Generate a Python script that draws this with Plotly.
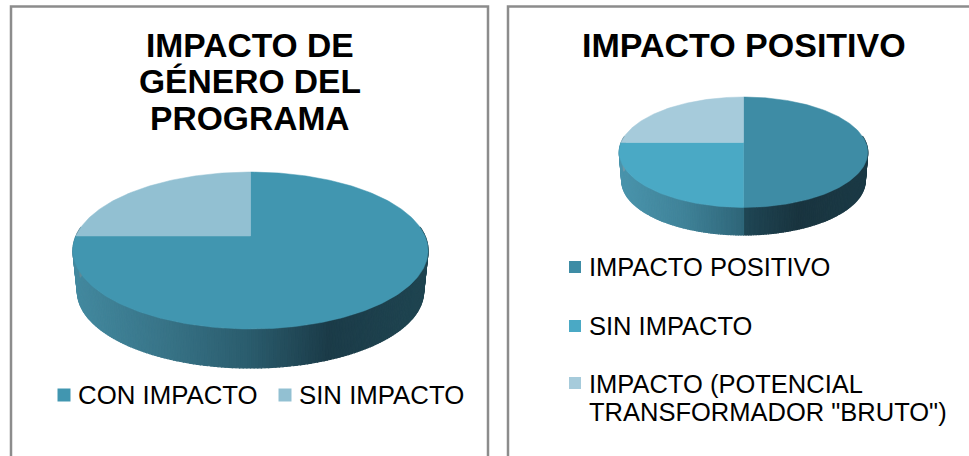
import math
import plotly.graph_objects as go

# ---- data ----
left_title = ["IMPACTO DE", "GÉNERO DEL", "PROGRAMA"]
left_labels = ["CON IMPACTO", "SIN IMPACTO"]
left_values = [75, 25]

right_title = ["IMPACTO POSITIVO"]
right_labels = ["IMPACTO POSITIVO", "SIN IMPACTO", 'IMPACTO (POTENCIAL<br>TRANSFORMADOR "BRUTO")']
right_values = [50, 25, 25]

# ---- styles ----
FONT = "Liberation Sans, Arial, sans-serif"
left_colors = ["#4196B0", "#92C0D2"]
right_colors = ["#3E8CA5", "#4AA9C5", "#A6CBDB"]
BORDER = "#8C8C8C"

left_geom = dict(cx=250.5, cy=236, rx=174.5, ry=75.8, k=0.185, depth=41.3, shrink=0.975)
right_geom = dict(cx=743.5, cy=142.5, rx=122.3, ry=53.5, k=0.176, depth=28.8, shrink=0.98)

# wall gradients: (x position within the pie, 0..1 -> colour), one per slice
left_wall = [[(0.0, "#43899F"), (0.25, "#387488"), (0.5, "#2A5B6C"), (0.72, "#1B3B48"), (1.0, "#1F4551")],
             [(0.0, "#5F8A99"), (1.0, "#5F8A99")]]
right_wall = [[(0.5, "#1F4654"), (0.72, "#19343F"), (1.0, "#1B3A46")],
              [(0.0, "#4A94AC"), (0.25, "#408399"), (0.5, "#2E6578")],
              [(0.0, "#6C98A8"), (1.0, "#6C98A8")]]


def project(g, theta, lower=False):
    u, v = math.sin(theta), math.cos(theta)
    w = 1 + g["k"] * v
    s = g["shrink"] if lower else 1.0
    d = g["depth"] if lower else 0.0
    return g["cx"] + s * g["rx"] * u / w, g["cy"] + d - s * g["ry"] * v / w


def hex_rgb(c):
    return tuple(int(c[i:i + 2], 16) for i in (1, 3, 5))


def gradient(stops, t):
    if t <= stops[0][0]:
        return stops[0][1]
    for (a, ca), (b, cb) in zip(stops, stops[1:]):
        if t <= b:
            f = (t - a) / (b - a)
            ra, rb = hex_rgb(ca), hex_rgb(cb)
            return "rgb(%d,%d,%d)" % tuple(round(x + (y - x) * f) for x, y in zip(ra, rb))
    return stops[-1][1]


def add_pie(fig, values, colors, walls, g):
    total = sum(values)
    bounds = [0.0]
    for val in values:
        bounds.append(bounds[-1] + val / total * 2 * math.pi)
    # side wall, as thin strips
    span = g["rx"] * 1.02
    for i in range(len(values)):
        n = max(2, int(math.degrees(bounds[i + 1] - bounds[i])))
        for j in range(n):
            t0 = bounds[i] + (bounds[i + 1] - bounds[i]) * j / n
            t1 = bounds[i] + (bounds[i + 1] - bounds[i]) * (j + 1) / n
            if math.cos((t0 + t1) / 2) > 0.12:
                continue
            a, b = project(g, t0), project(g, t1)
            c, d = project(g, t1, True), project(g, t0, True)
            pos = ((a[0] + b[0]) / 2 - (g["cx"] - span)) / (2 * span)
            col = gradient(walls[i], pos)
            fig.add_trace(go.Scatter(
                x=[a[0], b[0], c[0], d[0], a[0]], y=[a[1], b[1], c[1], d[1], a[1]],
                mode="lines", fill="toself", fillcolor=col,
                line=dict(color=col, width=1.2), hoverinfo="skip", showlegend=False))
    # top faces
    for i in range(len(values)):
        n = max(2, int(math.degrees(bounds[i + 1] - bounds[i])))
        pts = [project(g, bounds[i] + (bounds[i + 1] - bounds[i]) * j / n) for j in range(n + 1)]
        xs = [g["cx"]] + [p[0] for p in pts] + [g["cx"]]
        ys = [g["cy"]] + [p[1] for p in pts] + [g["cy"]]
        fig.add_trace(go.Scatter(x=xs, y=ys, mode="lines", fill="toself", fillcolor=colors[i],
                                 line=dict(color=colors[i], width=0.5), hoverinfo="skip", showlegend=False))


def add_text(fig, text, x, y, size, bold=False, anchor="center", align="center"):
    fig.add_annotation(x=x, y=y, xref="x", yref="y", text=f"<b>{text}</b>" if bold else text,
                       showarrow=False, xanchor=anchor, yanchor="middle", align=align,
                       font=dict(family=FONT, size=size, color="#000000"))


def add_key(fig, x, y, size, color):
    fig.add_trace(go.Scatter(x=[x], y=[y], mode="markers",
                             marker=dict(symbol="square", size=size, color=color, line=dict(width=0)),
                             hoverinfo="skip", showlegend=False))


fig = go.Figure()
add_pie(fig, left_values, left_colors, left_wall, left_geom)
add_pie(fig, right_values, right_colors, right_wall, right_geom)

# titles
for line, y in zip(left_title, [45, 81.5, 118]):
    add_text(fig, line, 250, y, 33.6, bold=True)
add_text(fig, right_title[0], 744, 45, 34, bold=True)

# legends
add_key(fig, 64, 395, 13, left_colors[0])
add_text(fig, left_labels[0], 75.5, 395, 25.8, anchor="left")
add_key(fig, 285, 395, 13, left_colors[1])
add_text(fig, left_labels[1], 296.5, 395, 25.8, anchor="left")

for i, y in enumerate([267, 326]):
    add_key(fig, 575, y, 12, right_colors[i])
    add_text(fig, right_labels[i], 587, y, 25.5, anchor="left")
add_key(fig, 575, 383, 12, right_colors[2])
for line, y in zip(right_labels[2].split("<br>"), [383.5, 411.5]):
    add_text(fig, line, 587, y, 25.5, anchor="left")

# panel frames
for x0, x1 in [(11, 488), (508, 975)]:
    fig.add_shape(type="rect", xref="x", yref="y", x0=x0, x1=x1, y0=6.5, y1=470,
                  line=dict(color=BORDER, width=2.5), fillcolor="rgba(0,0,0,0)", layer="below")

fig.update_layout(width=969, height=456, autosize=False,
                  margin=dict(l=0, r=0, t=0, b=0), paper_bgcolor="white", plot_bgcolor="white",
                  showlegend=False,
                  xaxis=dict(range=[0, 969], visible=False, fixedrange=True),
                  yaxis=dict(range=[456, 0], visible=False, fixedrange=True))
fig.write_html("out.html", config=dict(displayModeBar=False, responsive=False),
               post_script="document.body.style.margin='0';document.body.style.overflow='hidden';")
